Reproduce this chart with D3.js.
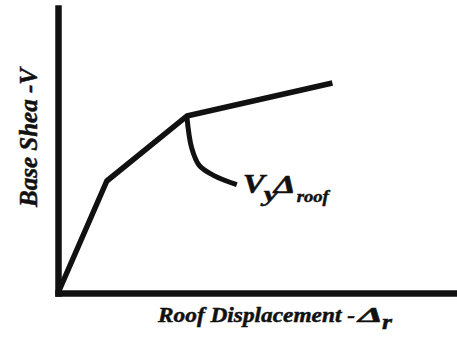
<!DOCTYPE html>
<html>
<head>
<meta charset="utf-8">
<script src="https://cdn.jsdelivr.net/npm/d3@7"></script>
<style>
  body { margin: 0; background: #fff; }
  svg { display: block; }
  .label { font-family: "Liberation Serif", "Times New Roman", serif; font-weight: bold; font-style: italic; fill: #111; stroke: #111; stroke-width: 0.5; }
</style>
</head>
<body>
<div id="wrapper"></div>
<script>
// pushover curve (roof displacement, base shear) in arbitrary units
const displacement = [0, 1.22, 3.22, 6.86]
const baseShear = [0, 3.93, 6.21, 7.37]

// leader from the yield point to the annotation
const leaderX = [3.22, 3.34, 3.53, 3.9, 4.47]
const leaderY = [6.21, 5.1, 4.48, 4.12, 3.8]

const xLabel = "Roof Displacement -"
const yLabel = "Base Shea -V"

function drawChart() {
  const dimensions = {
    width: 457,
    height: 340,
    margin: { top: 10, right: 0, bottom: 47, left: 58 },
  }
  dimensions.boundedWidth = dimensions.width - dimensions.margin.left - dimensions.margin.right
  dimensions.boundedHeight = dimensions.height - dimensions.margin.top - dimensions.margin.bottom

  const wrapper = d3.select("#wrapper")
    .append("svg")
    .attr("width", dimensions.width)
    .attr("height", dimensions.height)

  const bounds = wrapper.append("g")
    .attr("transform", `translate(${dimensions.margin.left}, ${dimensions.margin.top})`)

  // scales
  const xScale = d3.scaleLinear()
    .domain([0, 10])
    .range([0, 400])
  const yScale = d3.scaleLinear()
    .domain([0, 10])
    .range([dimensions.boundedHeight, dimensions.boundedHeight - 285])

  // axes (no ticks, just heavy lines)
  bounds.append("g")
    .call(d3.axisLeft(yScale).ticks(0).tickSizeOuter(0))
  bounds.append("g")
    .attr("transform", `translate(0, ${dimensions.boundedHeight})`)
    .call(d3.axisBottom(xScale).ticks(0).tickSizeOuter(0))
  bounds.selectAll(".domain")
    .attr("stroke", "#111")
    .attr("stroke-width", 6.5)
    .attr("stroke-linecap", "square")

  // curve
  const points = displacement.map((d, i) => [d, baseShear[i]])
  const lineGenerator = d3.line()
    .x(d => xScale(d[0]))
    .y(d => yScale(d[1]))
  bounds.append("path")
    .attr("d", lineGenerator(points))
    .attr("fill", "none")
    .attr("stroke", "#111")
    .attr("stroke-width", 5.5)
    .attr("stroke-linejoin", "round")

  const leader = leaderX.map((d, i) => [d, leaderY[i]])
  bounds.append("path")
    .attr("d", lineGenerator.curve(d3.curveCatmullRom)(leader))
    .attr("fill", "none")
    .attr("stroke", "#111")
    .attr("stroke-width", 5)

  // annotation V_y Δ_roof
  const ax = xScale(4.62), ay = yScale(3.52)
  const part = (txt, dx, dy, size, len) => bounds.append("text")
    .attr("class", "label")
    .attr("x", ax + dx)
    .attr("y", ay + dy)
    .attr("textLength", len)
    .attr("lengthAdjust", "spacingAndGlyphs")
    .style("font-size", size + "px")
    .text(txt)
  part("V", 0, 0, 27, 22)
  part("y", 21, 8, 21, 14)
  part("Δ", 31, 0, 26, 22)
  part("roof", 54, 9, 17, 32)

  // axis labels
  const lab = (txt, x, y, size, len) => wrapper.append("text")
    .attr("class", "label")
    .attr("x", x)
    .attr("y", y)
    .attr("textLength", len)
    .attr("lengthAdjust", "spacingAndGlyphs")
    .style("font-size", size + "px")
    .text(txt)
  lab(xLabel, 158, 322, 22, 197)
  lab("Δ", 358, 322, 22, 25)
  lab("r", 382, 329, 22, 10)

  wrapper.append("text")
    .attr("class", "label")
    .attr("transform", "translate(37, 207) rotate(-90)")
    .attr("textLength", 139)
    .attr("lengthAdjust", "spacingAndGlyphs")
    .style("font-size", "26px")
    .text(yLabel)
}
drawChart()
</script>
</body>
</html>
